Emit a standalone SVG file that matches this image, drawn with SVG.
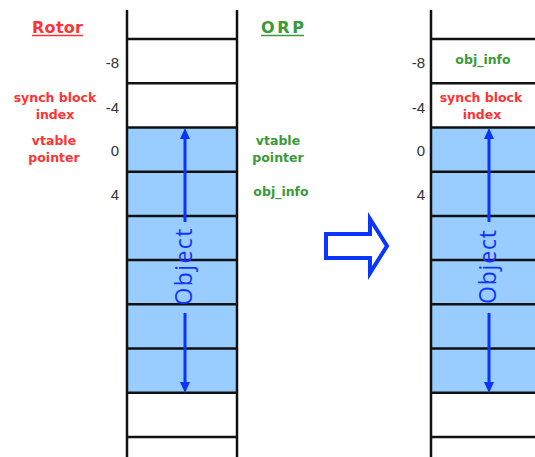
<svg xmlns="http://www.w3.org/2000/svg" width="535" height="457" viewBox="0 0 535 457">
<style>
.grid{stroke:#111;stroke-width:2.5;fill:none}
.fill{fill:#99CCFF}
.num{font-family:"Liberation Sans",Arial,sans-serif;font-size:15px;fill:#333;text-anchor:end}
.lbl{font-family:"DejaVu Sans",Verdana,sans-serif;font-size:12.5px;font-weight:bold;text-anchor:middle}
.red{fill:#FF3333}
.grn{fill:#3A9A3A}
.head{font-family:"DejaVu Sans",Verdana,sans-serif;font-size:16px;font-weight:bold}
.obj{font-family:"Open Sans","DejaVu Sans",sans-serif;font-size:23px;fill:#1133FF;text-anchor:middle}
.arr{stroke:#0A35FF;stroke-width:3;fill:none}
.ah{fill:#0A35FF}
</style>
<rect width="535" height="457" fill="#fff"/>

<g id="headers">
  <text class="head red" x="32" y="33" textLength="51" lengthAdjust="spacing">Rotor</text>
  <line x1="32" y1="35.5" x2="83" y2="35.5" stroke="#FF3333" stroke-width="1.5"/>
  <text class="head grn" x="261" y="33" textLength="43" lengthAdjust="spacing">ORP</text>
  <line x1="261" y1="35.5" x2="304" y2="35.5" stroke="#3A9A3A" stroke-width="1.5"/>
</g>

<g id="left-stack">
  <rect class="fill" x="127" y="127.4" width="110" height="265.4"/>
  <path class="grid" d="M127,10V457M237,10V457M127,39H237M127,83.2H237M127,127.4H237M127,171.7H237M127,215.9H237M127,260.1H237M127,304.3H237M127,348.5H237M127,392.8H237M127,437H237"/>
  <text class="num" x="119" y="68">-8</text>
  <text class="num" x="119" y="113">-4</text>
  <text class="num" x="119" y="156">0</text>
  <text class="num" x="119" y="200">4</text>
  <text class="lbl red" x="55" y="102">synch block</text>
  <text class="lbl red" x="55" y="119">index</text>
  <text class="lbl red" x="54" y="145">vtable</text>
  <text class="lbl red" x="54" y="162">pointer</text>
  <text class="lbl grn" x="278" y="145">vtable</text>
  <text class="lbl grn" x="278" y="162">pointer</text>
  <text class="lbl grn" x="281" y="196">obj_info</text>
</g>

<g id="left-object">
  <path class="arr" d="M185,222V137M185,313V383"/>
  <polygon class="ah" points="185,128 180,139 190,139"/>
  <polygon class="ah" points="185,393 180,382 190,382"/>
  <text class="obj" transform="translate(192,267) rotate(-90)" textLength="77" lengthAdjust="spacing">Object</text>
</g>

<g id="transform-arrow">
  <path d="M326,234H370V219L387,246L370,273V258H326Z" fill="none" stroke="#0A35FF" stroke-width="4" stroke-linejoin="miter"/>
</g>

<g id="right-stack">
  <rect class="fill" x="431" y="127.4" width="110" height="265.4"/>
  <path class="grid" d="M431,10V457M431,39H540M431,83.2H540M431,127.4H540M431,171.7H540M431,215.9H540M431,260.1H540M431,304.3H540M431,348.5H540M431,392.8H540M431,437H540"/>
  <text class="num" x="425" y="68">-8</text>
  <text class="num" x="425" y="113">-4</text>
  <text class="num" x="425" y="156">0</text>
  <text class="num" x="425" y="200">4</text>
  <text class="lbl grn" x="483" y="64">obj_info</text>
  <text class="lbl red" x="481" y="102">synch block</text>
  <text class="lbl red" x="482" y="119">index</text>
</g>

<g id="right-object">
  <path class="arr" d="M489,222V137M489,313V383"/>
  <polygon class="ah" points="489,128 484,139 494,139"/>
  <polygon class="ah" points="489,393 484,382 494,382"/>
  <text class="obj" transform="translate(496,267) rotate(-90)" textLength="74" lengthAdjust="spacing">Object</text>
</g>
</svg>
